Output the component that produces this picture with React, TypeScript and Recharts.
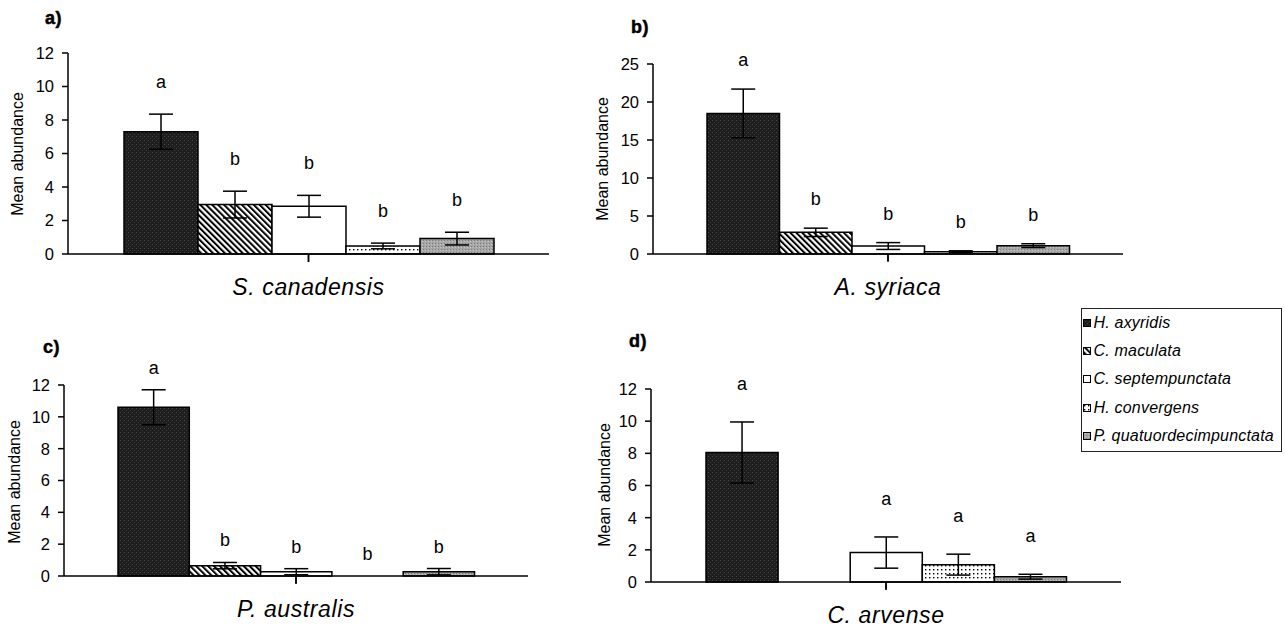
import { Bar, BarChart, ErrorBar, LabelList, ReferenceLine, XAxis, YAxis } from 'recharts'

const FONT = '"Liberation Sans", Arial, Helvetica, sans-serif'

// ladybird species, in legend / bar order
const species = ['H. axyridis', 'C. maculata', 'C. septempunctata', 'H. convergens', 'P. quatuordecimpunctata']
const speciesKeys = ['hax', 'cmac', 'csep', 'hcon', 'pqua']

const plants = ['S. canadensis', 'A. syriaca', 'P. australis', 'C. arvense']
const panelTags = ['a)', 'b)', 'c)', 'd)']

const canadensisMeans = [7.3, 2.95, 2.85, 0.48, 0.92]
const canadensisErr = [1.05, 0.8, 0.65, 0.17, 0.38]
const canadensisLetters = ['a', 'b', 'b', 'b', 'b']

const syriacaMeans = [18.5, 2.85, 1.05, 0.3, 1.1]
const syriacaErr = [3.2, 0.55, 0.45, 0.12, 0.25]
const syriacaLetters = ['a', 'b', 'b', 'b', 'b']

const australisMeans = [10.6, 0.65, 0.27, 0, 0.27]
const australisErr = [1.1, 0.2, 0.19, 0, 0.2]
const australisLetters = ['a', 'b', 'b', 'b', 'b']

const arvenseMeans = [8.05, 0, 1.83, 1.08, 0.33]
const arvenseErr = [1.9, 0, 0.97, 0.65, 0.15]
const arvenseLetters = ['a', '', 'a', 'a', 'a']

const ticks12 = [0, 2, 4, 6, 8, 10, 12]
const ticks25 = [0, 5, 10, 15, 20, 25]

const axisStroke = { stroke: '#000', strokeWidth: 1.5 }

function Patterns({ pid }: { pid: string }) {
  return (
    <defs>
      <pattern id={`${pid}-hax`} width="4" height="4" patternUnits="userSpaceOnUse">
        <rect width="4" height="4" fill="#1e1e1e" />
        <rect x="0" y="0" width="1" height="1" fill="#4a4a4a" />
        <rect x="2" y="2" width="1" height="1" fill="#3c3c3c" />
      </pattern>
      <pattern id={`${pid}-cmac`} width="4.2" height="4.2" patternUnits="userSpaceOnUse" patternTransform="rotate(-45)">
        <rect width="4.2" height="4.2" fill="#fff" />
        <rect width="2" height="4.2" fill="#000" />
      </pattern>
      <pattern id={`${pid}-csep`} width="4" height="4" patternUnits="userSpaceOnUse">
        <rect width="4" height="4" fill="#fff" />
      </pattern>
      <pattern id={`${pid}-hcon`} width="4" height="4" patternUnits="userSpaceOnUse">
        <rect width="4" height="4" fill="#fff" />
        <rect x="1" y="1" width="1.4" height="1.4" fill="#000" />
      </pattern>
      <pattern id={`${pid}-pqua`} width="3" height="3" patternUnits="userSpaceOnUse">
        <rect width="3" height="3" fill="#a6a6a6" />
        <rect x="0" y="0" width="1" height="1" fill="#7c7c7c" />
        <rect x="2" y="1" width="1" height="1" fill="#c6c6c6" />
      </pattern>
    </defs>
  )
}

function PlantTick({ x, y, payload }: any) {
  return (
    <text x={x} y={y + 33} textAnchor="middle" dominantBaseline="central" fontSize={23}
      fontStyle="italic" fontFamily={FONT} fill="#000" letterSpacing={0.6}>
      {payload.value}
    </text>
  )
}

// all significance letters are laid out from the first bar's geometry,
// so zero-height bars still get their letter; each sits a gap above its cap
const lettersContent = (means: number[], errs: number[], letters: string[], gap: number) => (props: any) => {
  const { x, y, width, height, value } = props
  if (!value) return null
  const perUnit = height / value
  const base = y + height
  return (
    <g>
      {letters.map((letter, i) => letter ? (
        <text key={i} x={x + width * (i + 0.5)} y={base - (means[i] + errs[i]) * perUnit - gap}
          textAnchor="middle" dominantBaseline="central" fontSize={18} fontFamily={FONT} fill="#000">
          {letter}
        </text>
      ) : null)}
    </g>
  )
}

interface PanelProps {
  pid: string
  plant: string
  means: number[]
  errs: number[]
  letters: string[]
  ticks: number[]
  left: number
  top: number
  width: number
  height: number
  margin: { top: number; right: number; bottom: number; left: number }
  barSize: number
  letterGap: number
}

function Panel(p: PanelProps) {
  const row: Record<string, number | string> = { plant: p.plant }
  speciesKeys.forEach((k, i) => {
    row[k] = p.means[i]
    row[`${k}Err`] = p.errs[i]
  })
  const yMax = p.ticks[p.ticks.length - 1]
  const tickDrop = -yMax * 0.04
  return (
    <div style={{ position: 'absolute', left: p.left, top: p.top }}>
      <BarChart width={p.width} height={p.height} data={[row]} margin={p.margin} barGap={0}>
        <Patterns pid={p.pid} />
        <XAxis dataKey="plant" height={40} tickSize={0} tickMargin={0} tickLine={false}
          axisLine={axisStroke} tick={PlantTick} interval={0} />
        <XAxis xAxisId="edge" type="number" domain={[0, 1]} hide allowDataOverflow />
        <YAxis domain={[0, yMax]} ticks={p.ticks} width={40} interval={0}
          tick={{ fill: '#000', fontSize: 16.5, fontFamily: FONT }}
          tickLine={axisStroke} axisLine={axisStroke} tickSize={6} tickMargin={8} />
        {speciesKeys.map((k, i) => (
          <Bar key={k} dataKey={k} fill={`url(#${p.pid}-${k})`} stroke="#000" strokeWidth={1.5}
            barSize={p.barSize} isAnimationActive={false}>
            <ErrorBar dataKey={`${k}Err`} width={12} stroke="#000" strokeWidth={1.5} />
            {i === 0 && (
              <LabelList dataKey={k} content={lettersContent(p.means, p.errs, p.letters, p.letterGap)} />
            )}
          </Bar>
        ))}
        <ReferenceLine xAxisId="edge" segment={[{ x: 0, y: 0 }, { x: 0, y: tickDrop }]}
          ifOverflow="visible" stroke="#000" strokeWidth={1.5} />
        <ReferenceLine xAxisId="edge" segment={[{ x: 1, y: 0 }, { x: 1, y: tickDrop }]}
          ifOverflow="visible" stroke="#000" strokeWidth={1.5} />
      </BarChart>
    </div>
  )
}

function Swatch({ k }: { k: string }) {
  return (
    <svg width={8} height={8} style={{ display: 'block' }}>
      <Patterns pid="lg" />
      <rect x={0.5} y={0.5} width={7} height={7} fill={`url(#lg-${k})`} stroke="#000" strokeWidth={1} />
    </svg>
  )
}

const yLabels = [
  { x: 17.5, y: 154 },
  { x: 602.5, y: 159 },
  { x: 14, y: 482 },
  { x: 604, y: 485 },
]
const tagSpots = [
  { x: 45, y: 24 },
  { x: 631, y: 33 },
  { x: 43, y: 353 },
  { x: 629, y: 347 },
]

export default function App() {
  return (
    <div style={{ position: 'absolute', left: 0, top: 0, width: 1285, height: 628, background: '#fff' }}>
      <Panel pid="pa" plant={plants[0]} means={canadensisMeans} errs={canadensisErr} letters={canadensisLetters}
        ticks={ticks12} left={0} top={0} width={570} height={300}
        margin={{ top: 53, right: 21, bottom: 6, left: 28 }} barSize={74} letterGap={32} />
      <Panel pid="pb" plant={plants[1]} means={syriacaMeans} errs={syriacaErr} letters={syriacaLetters}
        ticks={ticks25} left={580} top={0} width={560} height={300}
        margin={{ top: 64, right: 17, bottom: 6, left: 33 }} barSize={72.5} letterGap={29} />
      <Panel pid="pc" plant={plants[2]} means={australisMeans} errs={australisErr} letters={australisLetters}
        ticks={ticks12} left={0} top={300} width={570} height={328}
        margin={{ top: 85, right: 42, bottom: 12, left: 24 }} barSize={71.3} letterGap={22} />
      <Panel pid="pd" plant={plants[3]} means={arvenseMeans} errs={arvenseErr} letters={arvenseLetters}
        ticks={ticks12} left={580} top={300} width={560} height={328}
        margin={{ top: 89, right: 19, bottom: 6, left: 31 }} barSize={72.1} letterGap={38} />

      <svg width={1285} height={628} style={{ position: 'absolute', left: 0, top: 0, pointerEvents: 'none' }}>
        {yLabels.map((pos, i) => (
          <text key={`yl${i}`} x={pos.x} y={pos.y} transform={`rotate(-90, ${pos.x}, ${pos.y})`}
            textAnchor="middle" dominantBaseline="central" fontSize={16} fontFamily={FONT} fill="#000">
            Mean abundance
          </text>
        ))}
        {panelTags.map((t, i) => (
          <text key={t} x={tagSpots[i].x} y={tagSpots[i].y} fontSize={18} fontWeight="bold"
            fontFamily={FONT} fill="#000" stroke="#000" strokeWidth={0.5} letterSpacing={0.5}>
            {t}
          </text>
        ))}
      </svg>

      <div style={{ position: 'absolute', left: 1081, top: 308, width: 199, height: 142,
        border: '1.5px solid #222', background: '#fff', fontFamily: FONT }}>
        {species.map((s, i) => (
          <div key={s} style={{ position: 'absolute', left: 0.5, top: 6.5 + i * 28.4, height: 14,
            display: 'flex', alignItems: 'center' }}>
            <Swatch k={speciesKeys[i]} />
            <span style={{ marginLeft: 3, fontSize: 16, fontStyle: 'italic', whiteSpace: 'nowrap',
              letterSpacing: 0.2 }}>{s}</span>
          </div>
        ))}
      </div>
    </div>
  )
}
